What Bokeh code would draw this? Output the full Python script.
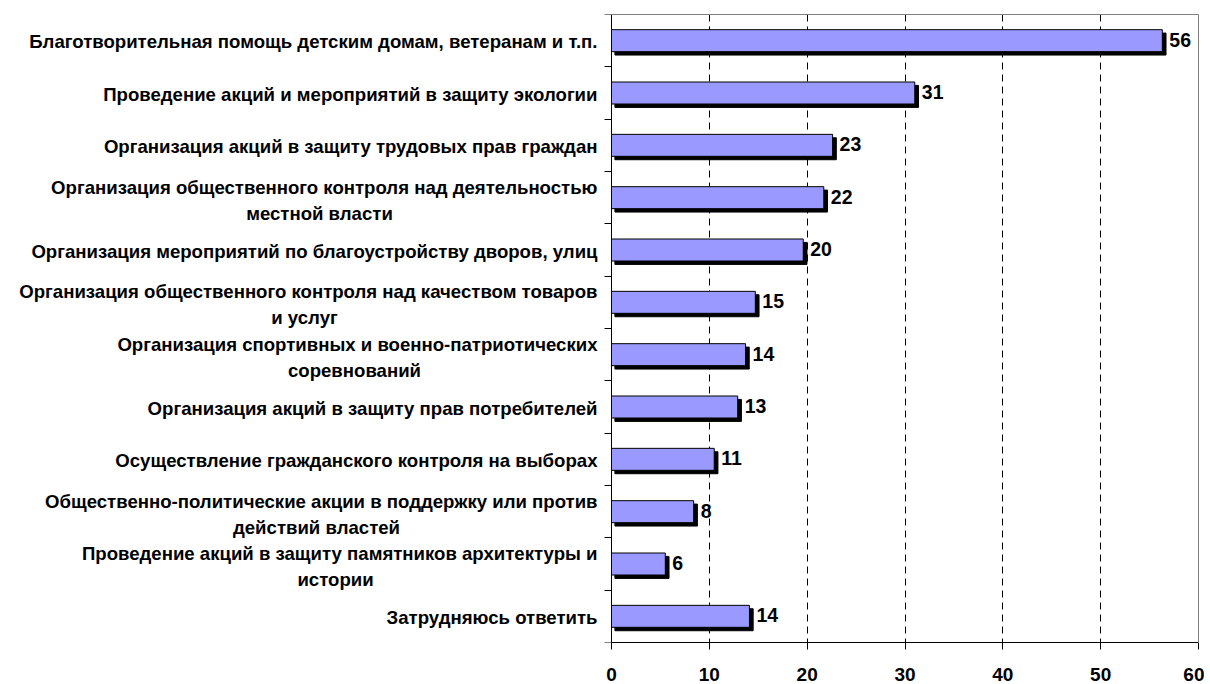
from bokeh.plotting import figure
from bokeh.models import ColumnDataSource, Range1d, FixedTicker, LabelSet, LinearAxis
from bokeh.transform import dodge
from bokeh.core.properties import value
from bokeh.embed import file_html
from bokeh.resources import INLINE

categories = [
    "Благотворительная помощь детским домам, ветеранам и т.п.",
    "Проведение акций и мероприятий в защиту экологии",
    "Организация акций в защиту трудовых прав граждан",
    "Организация общественного контроля над деятельностью\nместной власти",
    "Организация мероприятий по благоустройству дворов, улиц",
    "Организация общественного контроля над качеством товаров\nи услуг",
    "Организация спортивных и военно-патриотических\nсоревнований",
    "Организация акций в защиту прав потребителей",
    "Осуществление гражданского контроля на выборах",
    "Общественно-политические акции в поддержку или против\nдействий властей",
    "Проведение акций в защиту памятников архитектуры и\nистории",
    "Затрудняюсь ответить",
]
values = [56.3, 31.0, 22.6, 21.7, 19.6, 14.7, 13.7, 12.9, 10.5, 8.4, 5.5, 14.1]
value_labels = ["56", "31", "23", "22", "20", "15", "14", "13", "11", "8", "6", "14"]
x_ticks = [0, 10, 20, 30, 40, 50, 60]
x_max = 60

# horizontal centre (px left of the axis) of each wrapped label's first line
wrapped_centre_px = {3: 292, 5: 307, 6: 257, 9: 295, 10: 276}

# layout (pixels)
W, H = 1204, 684
AXIS_PX, RIGHT_PX, TOP_PX, BOTTOM_PX = 611, 1198, 14, 642

n = len(categories)
ypos = [i + 0.5 for i in range(n)]
source = ColumnDataSource(dict(y=ypos, value=values, label=value_labels))

first_lines = [c.split("\n")[0] for c in categories]
first_off = [10.5 if "\n" in c else -1.0 for c in categories]
src_first = ColumnDataSource(dict(y=ypos, text=first_lines, yo=first_off))

sec_idx = [i for i, c in enumerate(categories) if "\n" in c]
src_second = ColumnDataSource(dict(
    y=[ypos[i] for i in sec_idx],
    text=[categories[i].split("\n")[1] for i in sec_idx],
    xo=[-wrapped_centre_px[i] for i in sec_idx],
))

FONT = "Liberation Sans"
GRAY = "#808080"

px_per_unit = (RIGHT_PX - AXIS_PX) / x_max
x_start = -AXIS_PX / px_per_unit

p = figure(width=W, height=H, output_backend="svg", toolbar_location=None,
           x_range=Range1d(x_start, x_max), y_range=Range1d(n, 0),
           y_axis_location=None,
           min_border_left=0, min_border_right=W - RIGHT_PX, min_border_top=TOP_PX,
           min_border_bottom=H - BOTTOM_PX)
p.background_fill_color = "white"
p.border_fill_color = "white"
p.outline_line_color = None

# grid
p.xgrid.ticker = FixedTicker(ticks=[10, 20, 30, 40, 50])
p.xgrid.grid_line_color = "black"
p.xgrid.grid_line_dash = "7 5"
p.xgrid.grid_line_width = 1
p.ygrid.grid_line_color = None

# shadow
p.hbar(y=dodge("y", 0.065), left=0.35, right=dodge("value", 0.38), height=0.42,
       source=source, fill_color="black", line_color="black")
# bars
p.hbar(y="y", left=0, right="value", height=0.42, source=source,
       fill_color="#9999FF", line_color="black", line_width=1)

p.add_layout(LabelSet(x="value", y="y", text="label", source=source, x_offset=7, y_offset=1,
                      text_baseline="middle", text_align="left",
                      text_font=value(FONT), text_font_style="bold", text_font_size="19.5px",
                      text_color="black"))

p.add_layout(LabelSet(x=0, y="y", text="text", source=src_first, x_offset=-14, y_offset="yo",
                      text_baseline="middle", text_align="right",
                      text_font=value(FONT), text_font_style="bold", text_font_size="18.6px",
                      text_color="black"))
p.add_layout(LabelSet(x=0, y="y", text="text", source=src_second, x_offset="xo", y_offset=-15.5,
                      text_baseline="middle", text_align="center",
                      text_font=value(FONT), text_font_style="bold", text_font_size="18.6px",
                      text_color="black"))

# x axis (bottom)
p.xaxis.ticker = FixedTicker(ticks=x_ticks)
p.xaxis.bounds = (0, x_max)
p.xaxis.axis_line_color = "black"
p.xaxis.major_tick_line_color = "black"
p.xaxis.major_tick_out = 7
p.xaxis.major_tick_in = 0
p.xaxis.minor_tick_line_color = None
p.xaxis.major_label_standoff = 18
p.xaxis.major_label_text_font = FONT
p.xaxis.major_label_text_font_style = "bold"
p.xaxis.major_label_text_font_size = "19px"
p.xaxis.major_label_text_color = "black"

# top border (gray)
top_axis = LinearAxis(ticker=FixedTicker(ticks=[]), bounds=(0, x_max),
                      axis_line_color=GRAY, major_tick_line_color=None,
                      minor_tick_line_color=None, major_label_text_font_size="0px")
p.add_layout(top_axis, "above")

# right border (gray)
right_axis = LinearAxis(ticker=FixedTicker(ticks=[]), axis_line_color=GRAY,
                        major_tick_line_color=None, minor_tick_line_color=None,
                        major_label_text_font_size="0px")
p.add_layout(right_axis, "right")

# y axis at x = 0, ticks between categories
y_axis = LinearAxis(fixed_location=0, ticker=FixedTicker(ticks=[], minor_ticks=list(range(n + 1))),
                    axis_line_color="black", major_tick_line_color=None,
                    major_label_text_font_size="0px",
                    minor_tick_line_color="black", minor_tick_out=7, minor_tick_in=0)
p.add_layout(y_axis, "left")

open("out.html", "w").write(file_html(p, INLINE))
